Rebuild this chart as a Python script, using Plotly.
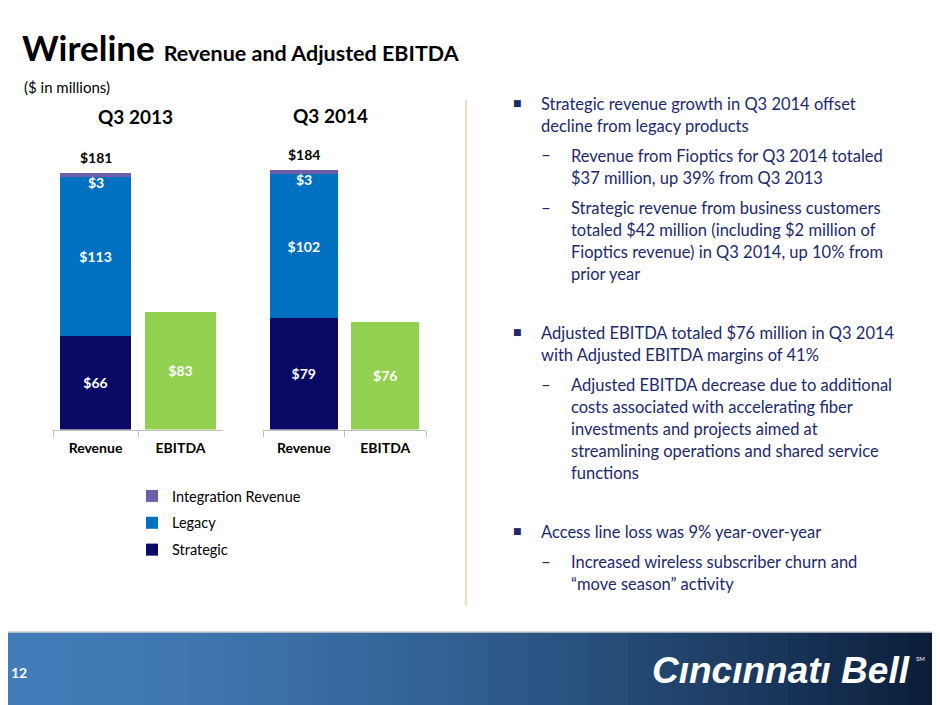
import plotly.graph_objects as go
from plotly.subplots import make_subplots

W, H = 940, 705
OFF = 8  # page body margin around the figure

# chart data ($ in millions)
periods = ["Q3 2013", "Q3 2014"]
categories = ["Revenue", "EBITDA"]
strategic = [66, 79]
legacy = [113, 102]
integration = [3, 3]
ebitda = [83, 76]
revenue_totals = [181, 184]

series_names = ["Strategic", "Legacy", "Integration Revenue"]
series_colors = ["#0A0A64", "#0070C0", "#6E5FA8"]
legend_rank = [3, 2, 1]
ebitda_color = "#92D050"

FONT = "Lato"
TXT_BLUE = "#1B2A6B"


def px_x(x):
    return (x - OFF) / W


def px_y(y):
    return 1 - (y - OFF) / H


fig = make_subplots(rows=1, cols=2)

for i, period in enumerate(periods):
    col = i + 1
    stacks = [strategic[i], legacy[i], integration[i]]
    for s, (name, color, val) in enumerate(zip(series_names, series_colors, stacks)):
        show_txt = name != "Integration Revenue"
        fig.add_trace(go.Bar(
            x=["Revenue"], y=[val], name=name,
            marker=dict(color=color, line=dict(width=0)),
            text=[f"${val}"] if show_txt else None,
            textposition="inside", insidetextanchor="middle",
            textfont=dict(color="white", size=14, family=FONT, weight="bold"),
            legendgroup=name, legendrank=legend_rank[s], showlegend=(i == 0),
        ), row=1, col=col)
    fig.add_trace(go.Bar(
        x=["EBITDA"], y=[ebitda[i]], name="EBITDA",
        marker=dict(color=ebitda_color, line=dict(width=0)),
        text=[f"${ebitda[i]}"], textposition="inside", insidetextanchor="middle",
        textfont=dict(color="white", size=14, family=FONT, weight="bold"),
        showlegend=False,
    ), row=1, col=col)

    xa = "x" if i == 0 else "x2"
    ya = "y" if i == 0 else "y2"
    top = strategic[i] + legacy[i] + integration[i]
    # total above the revenue stack
    fig.add_annotation(x="Revenue", y=top, xref=xa, yref=ya, text=f"<b>${revenue_totals[i]}</b>",
                       showarrow=False, yanchor="bottom", yshift=5,
                       font=dict(size=14, color="black", family=FONT))
    # small integration label (spills below its thin segment)
    fig.add_annotation(x="Revenue", y=top - integration[i] / 2, xref=xa, yref=ya,
                       text=f"<b>${integration[i]}</b>", showarrow=False, yshift=-7,
                       font=dict(size=14, color="white", family=FONT))

ydom = [px_y(429.5), px_y(147.5)]
axis_common = dict(showline=True, linecolor="#BFBFBF", linewidth=1, ticks="outside",
                   tickson="boundaries", ticklen=6, tickcolor="#BFBFBF", showgrid=False,
                   ticklabelstandoff=6,
                   categoryorder="array", categoryarray=categories,
                   tickfont=dict(size=14, color="black", family=FONT, weight="bold"))
fig.update_layout(
    xaxis=dict(domain=[px_x(53), px_x(223)], **axis_common),
    xaxis2=dict(domain=[px_x(263), px_x(426)], **axis_common),
    yaxis=dict(domain=ydom, range=[0, 200], visible=False),
    yaxis2=dict(domain=ydom, range=[0, 200], visible=False),
)

fig.update_layout(
    width=W, height=H, margin=dict(l=0, r=0, t=0, b=0),
    paper_bgcolor="white", plot_bgcolor="white",
    barmode="stack", bargap=0.17,
    font=dict(family=FONT),
    legend=dict(x=px_x(132), y=px_y(480), xanchor="left", yanchor="top",
                traceorder="grouped", tracegroupgap=5, itemwidth=30,
                font=dict(size=14.5, color="black", family=FONT),
                bgcolor="rgba(0,0,0,0)"),
)

ann = []
# title
ann.append(dict(x=px_x(20), y=px_y(47), xanchor="left", yanchor="middle",
                text="<b>Wireline</b> <b><span style='font-size:21.5px'>Revenue and Adjusted EBITDA</span></b>",
                font=dict(size=35, color="black", family=FONT)))
ann.append(dict(x=px_x(22), y=px_y(87), xanchor="left", yanchor="middle",
                text="($ in millions)", font=dict(size=15, color="black", family=FONT)))
ann.append(dict(x=px_x(135), y=px_y(116), xanchor="center", yanchor="middle",
                text=f"<b>{periods[0]}</b>", font=dict(size=19, color="black", family=FONT)))
ann.append(dict(x=px_x(330), y=px_y(115), xanchor="center", yanchor="middle",
                text=f"<b>{periods[1]}</b>", font=dict(size=19, color="black", family=FONT)))

# right hand commentary
bullets = [
    (0, 104, ["Strategic revenue growth in Q3 2014 offset", "decline from legacy products"]),
    (1, 156, ["Revenue from Fioptics for Q3 2014 totaled", "$37 million, up 39% from Q3 2013"]),
    (1, 208, ["Strategic revenue from business customers",
              "totaled $42 million (including $2 million of",
              "Fioptics revenue) in Q3 2014, up 10% from", "prior year"]),
    (0, 333, ["Adjusted EBITDA totaled $76 million in Q3 2014",
              "with Adjusted EBITDA margins of 41%"]),
    (1, 385, ["Adjusted EBITDA decrease due to additional",
              "costs associated with accelerating fiber",
              "investments and projects aimed at",
              "streamlining operations and shared service", "functions"]),
    (0, 532, ["Access line loss was 9% year-over-year"]),
    (1, 562, ["Increased wireless subscriber churn and", "\u201cmove season\u201d activity"]),
]
for level, y0, lines in bullets:
    mx, tx = (511, 539) if level == 0 else (539, 569)
    marker = "\u25a0" if level == 0 else "\u2013"
    ann.append(dict(x=px_x(mx), y=px_y(y0 - 1), xanchor="left", yanchor="middle", text=marker,
                    font=dict(size=9 if level == 0 else 17, color=TXT_BLUE,
                              family="DejaVu Sans" if level == 0 else FONT)))
    for k, line in enumerate(lines):
        ann.append(dict(x=px_x(tx), y=px_y(y0 + 22 * k), xanchor="left", yanchor="middle",
                        text=line, font=dict(size=16.5, color=TXT_BLUE, family=FONT)))

# footer text
ann.append(dict(x=px_x(9), y=px_y(672), xanchor="left", yanchor="middle", text="<b>12</b>",
                font=dict(size=14, color="white", family=FONT)))
ann.append(dict(x=px_x(912), y=px_y(670), xanchor="right", yanchor="middle",
                text="<b><i>C\u0131nc\u0131nnat\u0131 Bell</i></b>",
                font=dict(size=37, color="white", family="Liberation Sans")))
ann.append(dict(x=px_x(914), y=px_y(658), xanchor="left", yanchor="middle", text="SM",
                font=dict(size=6, color="white", family=FONT)))
for a in ann:
    a.setdefault("xref", "paper")
    a.setdefault("yref", "paper")
    a.setdefault("showarrow", False)
    fig.add_annotation(**a)

shapes = []
# divider
shapes.append(dict(type="line", xref="paper", yref="paper", x0=px_x(466), x1=px_x(466),
                   y0=px_y(100), y1=px_y(606), line=dict(color="#F4B183", width=1)))
# footer band: left-to-right blue gradient in strips
n = 47
c0, c1 = (66, 124, 184), (10, 28, 56)
for k in range(n):
    t = (k / (n - 1)) ** 1.6
    c = tuple(int(round(a + (b - a) * t)) for a, b in zip(c0, c1))
    shapes.append(dict(type="rect", xref="paper", yref="paper", layer="below",
                       x0=k / n, x1=(k + 1) / n + 0.002, y0=-0.05, y1=px_y(632),
                       line=dict(width=0), fillcolor=f"rgb{c}"))
shapes.append(dict(type="line", xref="paper", yref="paper", x0=0, x1=1,
                   y0=px_y(632), y1=px_y(632), line=dict(color="#D0D0D0", width=1.5)))
fig.update_layout(shapes=shapes)

fig.write_html("out.html")
